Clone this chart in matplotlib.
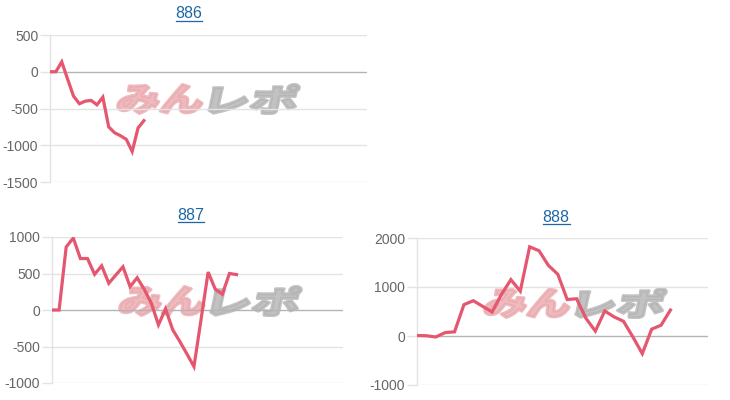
import matplotlib
matplotlib.use("Agg")
import matplotlib.pyplot as plt
from matplotlib.textpath import TextPath
from matplotlib.patches import PathPatch
from matplotlib.font_manager import FontProperties
from matplotlib.transforms import Affine2D
from matplotlib.lines import Line2D

plt.rcParams['font.family'] = ['Liberation Sans', 'DejaVu Sans']
plt.rcParams['axes.unicode_minus'] = False

# data (one point per game session, x labels hidden)
titles = ["886", "887", "888"]
vals_886 = [0, 0, 135, -100, -330, -435, -400, -390, -450, -345, -750, -830,
            -870, -920, -1085, -765, -665]
vals_887 = [0, 0, 864, 986, 705, 705, 489, 606, 366, 480, 592, 320, 442, 283,
            92, -203, 15, -269, -430, -600, -775, -130, 520, 285, 215, 500, 485]
vals_888 = [10, 5, -20, 70, 85, 640, 720, 605, 490, 850, 1150, 915, 1820, 1740,
            1440, 1260, 745, 760, 360, 100, 510, 390, 300, -20, -360, 140, 220, 530]
slots = [55, 42, 32]
ylims = [(-1500, 500), (-1000, 1000), (-1000, 2000)]
yticks = [[-1500, -1000, -500, 0, 500], [-1000, -500, 0, 500, 1000],
          [-1000, 0, 1000, 2000]]

W, H = 730, 400
LINE = '#e5566f'
GRID = '#e3e3e3'
ZERO = '#b4b4b4'
TXT = '#666666'
LINK = '#1e66a6'

fig = plt.figure(figsize=(W / 100, H / 100), dpi=100)
fig.patch.set_facecolor('white')

# axes boxes in pixels: left, top, right, bottom
boxes = [(50, 35, 367, 182), (52, 237, 343, 383), (417, 238, 708, 385)]
title_pos = [(189, 14), (191, 215), (556, 217)]
logo_pos = [(119, 99), (121, 301), (486, 303)]
series = [vals_886, vals_887, vals_888]


def px_axes(b):
    l, t, r, bt = b
    return [l / W, 1 - bt / H, (r - l) / W, (bt - t) / H]


def draw_logo(x0, yc):
    pix = Affine2D().scale(1 / W, 1 / H) + fig.transFigure
    fp = FontProperties(family='Noto Sans CJK JP', weight='black')
    parts = [("みん", x0, 84, '#eaa9ae'), ("レポ", x0 + 92, 86, '#b3b3b3')]
    for s, xl, w, col in parts:
        tp = TextPath((0, 0), s, size=40, prop=fp)
        ext = tp.get_extents()
        tr = (Affine2D().translate(-ext.x0, -ext.y0)
              .scale(w / ext.width, 29 / ext.height)
              .skew_deg(12, 0)
              .translate(xl - 3, H - yc - 14.5))
        patch = PathPatch(tr.transform_path(tp), facecolor=col, edgecolor=col,
                          lw=2.2, joinstyle='round', alpha=0.8, transform=pix,
                          zorder=-1)
        fig.add_artist(patch)


for i, vals in enumerate(series):
    ax = fig.add_axes(px_axes(boxes[i]))
    ax.set_facecolor('none')
    ax.plot(range(len(vals)), vals, color=LINE, lw=2.3, solid_joinstyle='miter',
            zorder=3)
    ax.set_xlim(0, slots[i] - 1)
    ax.set_ylim(*ylims[i])
    ax.set_yticks(yticks[i])
    ax.set_xticks([])
    for v in yticks[i]:
        ax.axhline(v, color=ZERO if v == 0 else GRID, lw=1, zorder=1)
    for sp in ['top', 'right', 'bottom']:
        ax.spines[sp].set_visible(False)
    ax.spines['left'].set_color(GRID)
    ax.spines['left'].set_linewidth(1)
    ax.tick_params(axis='y', length=7.5, width=1, color=GRID, pad=1,
                   labelsize=10, labelcolor=TXT)
    for t, v in zip(ax.yaxis.get_major_ticks(), yticks[i]):
        if v == 0:
            t.tick1line.set_color(ZERO)
    draw_logo(*logo_pos[i])
    tx, ty = title_pos[i]
    fig.text(tx / W, 1 - ty / H, titles[i], ha='center', va='center',
             color=LINK, fontsize=11.5)

# underline the titles (they are links in the source page)
fig.canvas.draw()
r = fig.canvas.get_renderer()
for t in fig.texts:
    bb = t.get_window_extent(r)
    y = bb.y0 + 0.5
    fig.add_artist(Line2D([bb.x0 / W, bb.x1 / W], [y / H, y / H],
                          transform=fig.transFigure, color=LINK, lw=0.9))

fig.savefig('out.png', dpi=100, facecolor='white')
